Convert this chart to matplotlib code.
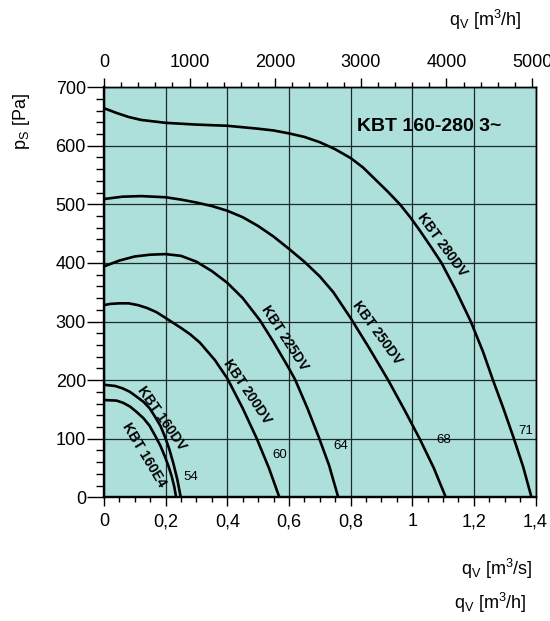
import numpy as np
import matplotlib.pyplot as plt
from matplotlib.ticker import MultipleLocator, FuncFormatter

plt.rcParams['font.family'] = ['Liberation Sans', 'DejaVu Sans']

# fan curves: qv in m3/s, ps in Pa
q_160e4 = [0, 0.041, 0.063, 0.084, 0.105, 0.128, 0.148, 0.165, 0.183, 0.198, 0.21, 0.22, 0.228, 0.234]
p_160e4 = [166, 165, 161, 155, 146, 135, 122, 106, 88, 69, 52, 35, 18, 0]

q_160dv = [0, 0.036, 0.06, 0.084, 0.105, 0.128, 0.148, 0.165, 0.183, 0.198, 0.212, 0.225, 0.238, 0.249]
p_160dv = [192, 190, 186, 180, 172, 163, 152, 138, 122, 103, 82, 58, 30, 0]

q_200dv = [0, 0.02, 0.05, 0.08, 0.11, 0.14, 0.17, 0.2, 0.25, 0.28, 0.311, 0.36, 0.4, 0.45, 0.495, 0.535, 0.569]
p_200dv = [328, 330, 331, 331, 328, 323, 316, 306, 289, 278, 264, 234, 203, 152, 101, 50, 0]

q_225dv = [0, 0.025, 0.05, 0.1, 0.15, 0.2, 0.25, 0.3, 0.35, 0.4, 0.45, 0.506, 0.55, 0.6, 0.62, 0.66, 0.698, 0.73, 0.76]
p_225dv = [394, 399, 404, 411, 414, 415, 412, 402, 386, 366, 340, 302, 265, 220, 201, 152, 101, 55, 0]

q_250dv = [0, 0.03, 0.06, 0.12, 0.2, 0.25, 0.3, 0.35, 0.4, 0.45, 0.5, 0.55, 0.6, 0.65, 0.7, 0.744,
           0.8, 0.86, 0.922, 0.975, 1.025, 1.07, 1.109]
p_250dv = [509, 511, 513, 514, 512, 508, 503, 497, 489, 478, 463, 445, 424, 402, 377, 350,
           306, 255, 200, 149, 99, 50, 0]

q_280dv = [0, 0.04, 0.08, 0.12, 0.2, 0.3, 0.4, 0.5, 0.55, 0.6, 0.65, 0.7, 0.75, 0.8, 0.84, 0.879,
           0.92, 0.96, 0.995, 1.025, 1.06, 1.095, 1.14, 1.19, 1.23, 1.262, 1.297, 1.33, 1.36, 1.387]
p_280dv = [664, 656, 649, 644, 639, 636, 634, 629, 626, 621, 615, 606, 594, 579, 563, 543,
           522, 500, 477, 455, 428, 400, 355, 300, 248, 200, 150, 100, 52, 0]

curves = [(q_160e4, p_160e4), (q_160dv, p_160dv), (q_200dv, p_200dv),
          (q_225dv, p_225dv), (q_250dv, p_250dv), (q_280dv, p_280dv)]

# curve labels: text, x, y, rotation
names = ['KBT 160E4', 'KBT 160DV', 'KBT 200DV', 'KBT 225DV', 'KBT 250DV', 'KBT 280DV']
name_x = [0.130, 0.188, 0.464, 0.587, 0.885, 1.096]
name_y = [72, 135, 180, 272, 281, 431]
name_rot = [-59, -55, -56, -57, -54, -54]

# sound levels
lvl = ['54', '60', '64', '68', '71']
lvl_x = [0.282, 0.571, 0.769, 1.103, 1.369]
lvl_y = [35, 72, 88, 98, 113]

W, H = 550, 621
fig = plt.figure(figsize=(W/100, H/100), dpi=100)
ax = fig.add_axes([104/W, 1-497.3/H, 431.5/W, 410.2/H])
ax.set_facecolor('#addfdb')

for q, p in curves:
    ax.plot(q, p, color='black', linewidth=1.9, solid_joinstyle='round', zorder=3)

for t, x, y, r in zip(names, name_x, name_y, name_rot):
    ax.text(x, y, t, rotation=r, ha='center', va='center', fontsize=10,
            fontweight='bold', rotation_mode='anchor', zorder=4)
for t, x, y in zip(lvl, lvl_x, lvl_y):
    ax.text(x, y, t, ha='center', va='center', fontsize=9.5, zorder=4)

ax.text(1.054, 632, 'KBT 160-280 3~', ha='center', va='center', fontsize=14, fontweight='bold')

ax.set_xlim(0, 1.4)
ax.set_ylim(0, 700)
ax.xaxis.set_major_locator(MultipleLocator(0.2))
ax.xaxis.set_minor_locator(MultipleLocator(0.05))
ax.yaxis.set_major_locator(MultipleLocator(100))
ax.yaxis.set_minor_locator(MultipleLocator(20))
ax.xaxis.set_major_formatter(FuncFormatter(lambda v, p: ('%g' % round(v, 2)).replace('.', ',')))
ax.tick_params(axis='x', which='major', direction='out', length=6.5, width=1, labelsize=13, pad=5)
ax.tick_params(axis='x', which='minor', direction='out', length=3.6, width=1)
ax.tick_params(axis='y', which='major', direction='out', length=12, width=1, labelsize=13, pad=1)
ax.tick_params(axis='y', which='minor', direction='out', length=5.5, width=1)
ax.grid(True, which='major', color='#1e2a29', linewidth=0.9)
ax.set_axisbelow(True)
for s in ['left', 'bottom']:
    ax.spines[s].set_linewidth(1.6)
for s in ['top', 'right']:
    ax.spines[s].set_linewidth(1.0)

# second axis in m3/h
ax2 = ax.twiny()
ax2.set_xlim(0, 1.4*3600)
ax2.xaxis.set_major_locator(MultipleLocator(1000))
ax2.xaxis.set_minor_locator(MultipleLocator(200))
ax2.tick_params(axis='x', which='major', direction='out', length=6.5, width=1, labelsize=13, pad=5)
ax2.tick_params(axis='x', which='minor', direction='out', length=3.6, width=1)
for s in ['left', 'bottom']:
    ax2.spines[s].set_linewidth(1.6)
for s in ['top', 'right']:
    ax2.spines[s].set_linewidth(1.0)

lab_h = r'q$_\mathregular{V}$ [m$^\mathregular{3}$/h]'
lab_s = r'q$_\mathregular{V}$ [m$^\mathregular{3}$/s]'
fig.text(485/W, 1-20/H, lab_h, ha='center', va='center', fontsize=13)
fig.text(497/W, 1-569/H, lab_s, ha='center', va='center', fontsize=13)
fig.text(490/W, 1-603/H, lab_h, ha='center', va='center', fontsize=13)
fig.text(22/W, 1-122/H, r'p$_\mathregular{S}$ [Pa]', ha='center', va='center', rotation=90, fontsize=13)

plt.savefig('out.png', dpi=100)
plt.close()
